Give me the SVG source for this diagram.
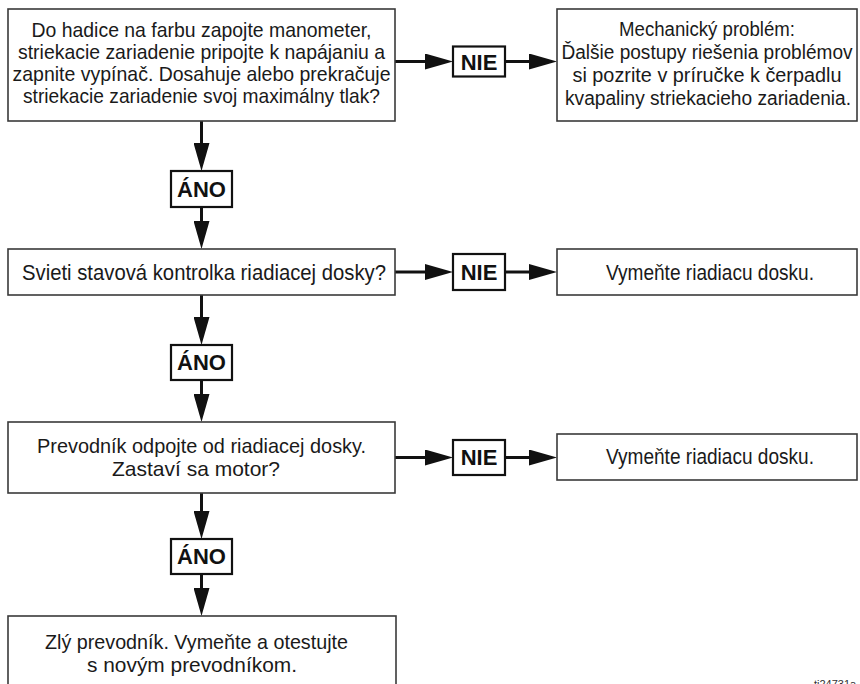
<svg xmlns="http://www.w3.org/2000/svg" width="860" height="684" viewBox="0 0 860 684">
<style>
.box{fill:#fff;stroke:#3a3a3a;stroke-width:1.6}
.tag{fill:#fff;stroke:#111;stroke-width:2.2}
.t{font-family:"Liberation Sans",Arial,sans-serif;font-size:22px;fill:#1a1a1a;text-anchor:middle}
.t1{font-family:"Liberation Sans",Arial,sans-serif;font-size:21px;fill:#1a1a1a;text-anchor:middle}
.tr{font-family:"Liberation Sans",Arial,sans-serif;font-size:19.5px;fill:#1a1a1a;text-anchor:middle}
.b{font-family:"Liberation Sans",Arial,sans-serif;font-size:22px;font-weight:bold;fill:#111;text-anchor:middle}
.c{fill:none;stroke:#111;stroke-width:3}
.id{font-family:"Liberation Sans",Arial,sans-serif;font-size:11px;fill:#333}
</style>
<defs>
<marker id="ah" markerWidth="28" markerHeight="16" refX="0" refY="8" orient="auto" markerUnits="userSpaceOnUse" viewBox="0 0 28 16">
<path d="M0,0 L28,8 L0,16 z" fill="#111"/>
</marker>
</defs>
<rect width="860" height="684" fill="#fff"/>
<g id="connectors">
<path class="c" d="M201.5,121 V143" marker-end="url(#ah)"/>
<path class="c" d="M201.5,207 V221" marker-end="url(#ah)"/>
<path class="c" d="M201.5,295 V317" marker-end="url(#ah)"/>
<path class="c" d="M201.5,380 V394" marker-end="url(#ah)"/>
<path class="c" d="M201.5,493 V511" marker-end="url(#ah)"/>
<path class="c" d="M201.5,574 V588" marker-end="url(#ah)"/>
<path class="c" d="M395,61.5 H425" marker-end="url(#ah)"/>
<path class="c" d="M505,61.5 H529" marker-end="url(#ah)"/>
<path class="c" d="M395,272 H425" marker-end="url(#ah)"/>
<path class="c" d="M505,272 H529" marker-end="url(#ah)"/>
<path class="c" d="M395,457.5 H425" marker-end="url(#ah)"/>
<path class="c" d="M505,457.5 H529" marker-end="url(#ah)"/>
</g>
<g id="q1">
<rect class="box" x="8" y="9" width="387" height="112"/>
<text class="t1" x="201.5" y="37" textLength="340" lengthAdjust="spacingAndGlyphs">Do hadice na farbu zapojte manometer,</text>
<text class="t1" x="201.5" y="59" textLength="367" lengthAdjust="spacingAndGlyphs">striekacie zariadenie pripojte k napájaniu a</text>
<text class="t1" x="201.5" y="81" textLength="378" lengthAdjust="spacingAndGlyphs">zapnite vypínač. Dosahuje alebo prekračuje</text>
<text class="t1" x="201.5" y="103" textLength="357" lengthAdjust="spacingAndGlyphs">striekacie zariadenie svoj maximálny tlak?</text>
</g>
<g id="nie1">
<rect class="tag" x="453" y="46.5" width="52" height="30"/>
<text class="b" x="479" y="69.5">NIE</text>
</g>
<g id="r1">
<rect class="box" x="557" y="9" width="300" height="112"/>
<text class="tr" x="707" y="36" textLength="176" lengthAdjust="spacingAndGlyphs">Mechanický problém:</text>
<text class="tr" x="707" y="59" textLength="291" lengthAdjust="spacingAndGlyphs">Ďalšie postupy riešenia problémov</text>
<text class="tr" x="707" y="82" textLength="269" lengthAdjust="spacingAndGlyphs">si pozrite v príručke k čerpadlu</text>
<text class="tr" x="708" y="105" textLength="286" lengthAdjust="spacingAndGlyphs">kvapaliny striekacieho zariadenia.</text>
</g>
<g id="ano1">
<rect class="tag" x="171" y="171" width="61" height="36"/>
<text class="b" x="201.5" y="197">ÁNO</text>
</g>
<g id="q2">
<rect class="box" x="8" y="249" width="387" height="46"/>
<text class="t" x="204" y="280" textLength="364" lengthAdjust="spacingAndGlyphs">Svieti stavová kontrolka riadiacej dosky?</text>
</g>
<g id="nie2">
<rect class="tag" x="453" y="254" width="52" height="36"/>
<text class="b" x="479" y="280">NIE</text>
</g>
<g id="r2">
<rect class="box" x="557" y="249" width="300" height="46"/>
<text class="t" x="710" y="280" textLength="208" lengthAdjust="spacingAndGlyphs">Vymeňte riadiacu dosku.</text>
</g>
<g id="ano2">
<rect class="tag" x="171" y="345" width="61" height="35"/>
<text class="b" x="201.5" y="370">ÁNO</text>
</g>
<g id="q3">
<rect class="box" x="8" y="422" width="387" height="71"/>
<text class="t1" x="201.5" y="453" textLength="329" lengthAdjust="spacingAndGlyphs">Prevodník odpojte od riadiacej dosky.</text>
<text class="t1" x="196" y="476" textLength="168" lengthAdjust="spacingAndGlyphs">Zastaví sa motor?</text>
</g>
<g id="nie3">
<rect class="tag" x="453" y="440" width="52" height="35"/>
<text class="b" x="479" y="465">NIE</text>
</g>
<g id="r3">
<rect class="box" x="557" y="434" width="300" height="46"/>
<text class="t" x="710" y="464" textLength="208" lengthAdjust="spacingAndGlyphs">Vymeňte riadiacu dosku.</text>
</g>
<g id="ano3">
<rect class="tag" x="171" y="539" width="61" height="35"/>
<text class="b" x="201.5" y="564">ÁNO</text>
</g>
<g id="end">
<rect class="box" x="8" y="616" width="388" height="80"/>
<text class="t1" x="196.5" y="649" textLength="303" lengthAdjust="spacingAndGlyphs">Zlý prevodník. Vymeňte a otestujte</text>
<text class="t1" x="192" y="672" textLength="210" lengthAdjust="spacingAndGlyphs">s novým prevodníkom.</text>
</g>
<text class="id" x="814" y="688">ti24731a</text>
</svg>
